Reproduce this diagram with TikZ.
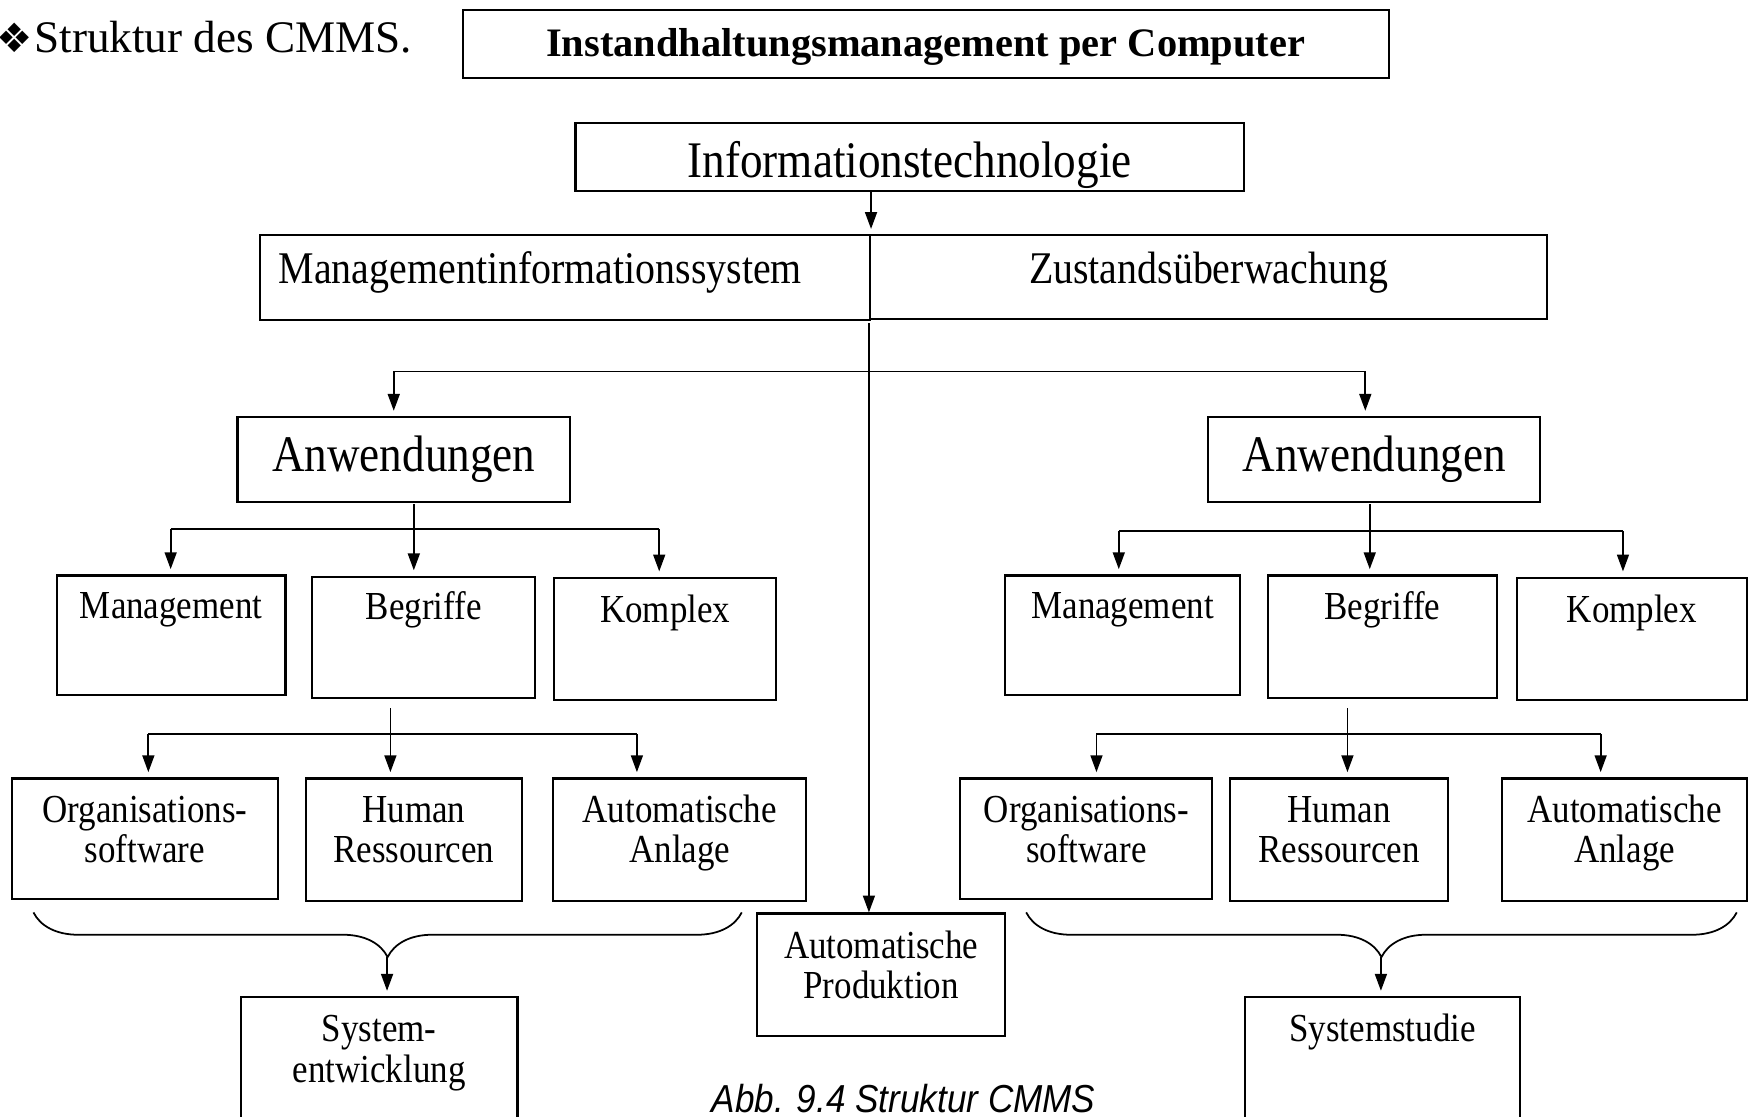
\documentclass[tikz,border=0pt]{standalone}
\usepackage{fontspec}
\setmainfont{Liberation Serif}
\newfontfamily\diagfont{Liberation Serif}[FakeStretch=0.88]
\newfontfamily\capfont{Liberation Sans}[FakeStretch=0.9]
\newfontfamily\symfont{DejaVu Sans}
\usetikzlibrary{
    arrows.meta,
    decorations.pathreplacing,
    calc,
    positioning
}
\newdimen\pxu \pxu=0.011154cm
% box of given width and height, first baseline at #3 below the top
\newcommand{\boxtxt}[4]{\parbox[c][#2\pxu][t]{#1\pxu}{\centering\rule{0pt}{#3\pxu}#4\par}}
\tikzset{
    box/.style={draw, line width=0.6pt, inner sep=0pt, anchor=north west},
    fS/.style={font=\diagfont\fontsize{11.3}{11.6}\selectfont},
    fM/.style={font=\diagfont\fontsize{12.9}{15}\selectfont},
    fL/.style={font=\diagfont\fontsize{14.6}{17}\selectfont},
    fH/.style={font=\fontsize{11.5}{14}\selectfont\bfseries},
    ln/.style={line width=0.5pt},
    arr/.style={ln, -{Triangle[length=4.8pt, width=3.4pt]}, shorten >=1.5pt},
    brc/.style={ln, decorate, decoration={brace, mirror, amplitude=12.7pt}}
}

\begin{document}
\begin{tikzpicture}[x=0.011154cm, y=-0.011154cm]
    \useasboundingbox (0,0) rectangle (1568,1001);
    \node[anchor=base west, inner sep=0pt, font=\fontsize{12.85}{15}\selectfont] (ttl) at (-3.5,47)
        {{\symfont\fontsize{11.5}{14}\selectfont ❖}\hspace{0.4pt}Struktur des CMMS.};
    \node[box, fH] (hdr) at (414,8) {\boxtxt{830}{61}{42}{Instandhaltungsmanagement per Computer}};
    \node[box, fL] (info) at (515,109) {\boxtxt{599}{61}{49}{Informationstechnologie}};
    \node[box, fM] (mis) at (232,210) {\boxtxt{547}{76}{43}{\hspace*{17\pxu}Managementinformationssystem\hspace*{\fill}}};
    \node[box, fM] (zust) at (779,210) {\boxtxt{607}{75}{43}{Zustandsüberwachung}};

    \node[box, fL] (anwL) at (212,373) {\boxtxt{298}{76}{49}{Anwendungen}};
    \node[box, fL] (anwR) at (1082,373) {\boxtxt{298}{76}{49}{Anwendungen}};

    \node[box, fS] (manL) at (50,515) {\boxtxt{205}{107}{39}{Management}};
    \node[box, fS] (begL) at (279,516) {\boxtxt{200}{109}{38}{Begriffe}};
    \node[box, fS] (komL) at (496,517) {\boxtxt{199}{110}{40}{Komplex}};
    \node[box, fS] (manR) at (900,515) {\boxtxt{211}{107}{39}{Management}};
    \node[box, fS] (begR) at (1136,515) {\boxtxt{205}{110}{39}{Begriffe}};
    \node[box, fS] (komR) at (1359,517) {\boxtxt{206}{110}{40}{Komplex}};

    \node[box, fS] (orgL) at (10,697) {\boxtxt{238}{108}{39}{Organisations-\\software}};
    \node[box, fS] (humL) at (273,697) {\boxtxt{194}{110}{39}{Human\\Ressourcen}};
    \node[box, fS] (anlL) at (495,697) {\boxtxt{227}{110}{39}{Automatische\\Anlage}};
    \node[box, fS] (orgR) at (860,697) {\boxtxt{226}{108}{39}{Organisations-\\software}};
    \node[box, fS] (humR) at (1102,697) {\boxtxt{195}{110}{39}{Human\\Ressourcen}};
    \node[box, fS] (anlR) at (1346,697) {\boxtxt{219}{110}{39}{Automatische\\Anlage}};

    \node[box, fS] (prod) at (678,818) {\boxtxt{222}{110}{40}{Automatische\\Produktion}};
    \node[box, fS] (sysE) at (215,893) {\boxtxt{248}{130}{40}{System-\\entwicklung}};
    \node[box, fS] (sysS) at (1115,893) {\boxtxt{247}{130}{40}{Systemstudie}};

    \node[anchor=base, inner sep=0pt, font=\capfont\itshape\fontsize{11.1}{13}\selectfont] (cap) at (810,997)
        {Abb. 9.4 Struktur CMMS};

    % junction points
    \coordinate (c0) at (779,290);
    \coordinate (bL) at (353,333);
    \coordinate (bR) at (1224,333);
    \coordinate (sL1) at (371,452);
    \coordinate (hL1) at (153,474);
    \coordinate (hL2) at (591,474);
    \coordinate (sR1) at (1228,452);
    \coordinate (hR1) at (1003,476);
    \coordinate (hR2) at (1455,476);
    \coordinate (sL2) at (350,635);
    \coordinate (gL1) at (133,658);
    \coordinate (gL2) at (571,658);
    \coordinate (sR2) at (1208,635);
    \coordinate (gR1) at (983,658);
    \coordinate (gR2) at (1435,658);
    \coordinate (kL1) at (30,818);
    \coordinate (kL2) at (665,818);
    \coordinate (tipL) at (347,858);
    \coordinate (kR1) at (920,818);
    \coordinate (kR2) at (1557,818);
    \coordinate (tipR) at (1238,858);

    \draw[arr] (info.south -| mis.north east) -- (mis.north east);
    \draw[arr, shorten >=0pt] (c0) -- (c0 |- prod.north);
    \draw[ln] (bL) -- (bR);
    \draw[arr] (bL) -- (bL |- anwL.north);
    \draw[arr] (bR) -- (bR |- anwR.north);

    \draw[arr] (sL1) -- (sL1 |- begL.north);
    \draw[ln] (hL1) -- (hL2);
    \draw[arr] (hL1) -- (hL1 |- manL.north);
    \draw[arr] (hL2) -- (hL2 |- komL.north);
    \draw[arr] (sR1) -- (sR1 |- begR.north);
    \draw[ln] (hR1) -- (hR2);
    \draw[arr] (hR1) -- (hR1 |- manR.north);
    \draw[arr] (hR2) -- (hR2 |- komR.north);

    \draw[arr] (sL2) -- (sL2 |- humL.north);
    \draw[ln] (gL1) -- (gL2);
    \draw[arr] (gL1) -- (gL1 |- orgL.north);
    \draw[arr] (gL2) -- (gL2 |- anlL.north);
    \draw[arr] (sR2) -- (sR2 |- humR.north);
    \draw[ln] (gR1) -- (gR2);
    \draw[arr] (gR1) -- (gR1 |- orgR.north);
    \draw[arr] (gR2) -- (gR2 |- anlR.north);

    \draw[brc] (kL1) -- (kL2);
    \draw[arr] (tipL) -- (tipL |- sysE.north);
    \draw[brc] (kR1) -- (kR2);
    \draw[arr] (tipR) -- (tipR |- sysS.north);
\end{tikzpicture}
\end{document}
